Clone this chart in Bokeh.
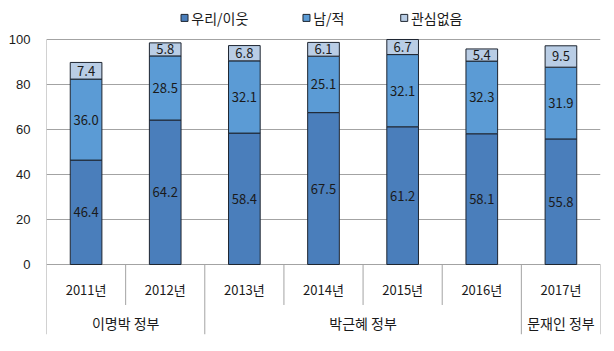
from bokeh.plotting import figure
from bokeh.models import Range1d, FixedTicker, ColumnDataSource
from bokeh.core.properties import value
from bokeh.embed import file_html
from bokeh.resources import INLINE

years = ["2011년", "2012년", "2013년", "2014년", "2015년", "2016년", "2017년"]
groups = ["이명박 정부", "박근혜 정부", "문재인 정부"]
group_spans = [(0, 2), (2, 6), (6, 7)]
series_names = ["우리/이웃", "남/적", "관심없음"]
ours = [46.4, 64.2, 58.4, 67.5, 61.2, 58.1, 55.8]
enemy = [36.0, 28.5, 32.1, 25.1, 32.1, 32.3, 31.9]
none_ = [7.4, 5.8, 6.8, 6.1, 6.7, 5.4, 9.5]
y_ticks = [0, 20, 40, 60, 80, 100]

colors = ["#4A7EBB", "#5B9BD5", "#B9CDE5"]
edge = "#1e2530"
grid_color = "#a3a3a3"
font = "Noto Sans CJK KR"
txt_color = "#1a1a1a"

n = len(years)
xs = [i + 0.5 for i in range(n)]

p = figure(width=614, height=351, output_backend="svg", toolbar_location=None,
           x_range=Range1d(0, n), y_range=Range1d(-38.67, 117.33),
           x_axis_location=None, min_border_left=46, min_border_right=14,
           min_border_top=0, min_border_bottom=0)
p.outline_line_color = None
p.xgrid.visible = False
p.ygrid.ticker = FixedTicker(ticks=y_ticks)
p.ygrid.grid_line_color = grid_color
p.ygrid.grid_line_width = 1
p.yaxis.ticker = FixedTicker(ticks=y_ticks)
p.yaxis.axis_line_color = None
p.yaxis.major_tick_line_color = None
p.yaxis.minor_tick_line_color = None
p.yaxis.major_label_standoff = 10
p.yaxis.major_label_text_font = "Liberation Sans"
p.yaxis.major_label_text_font_size = "13px"
p.yaxis.major_label_text_color = txt_color

src = ColumnDataSource(dict(x=xs, s1=ours, s2=enemy, s3=none_))
p.vbar_stack(["s1", "s2", "s3"], x="x", width=0.4, source=src,
             fill_color=colors, line_color=edge, line_width=1)

# value labels
lx, ly, lt = [], [], []
for i in range(n):
    base = 0.0
    for v in (ours[i], enemy[i], none_[i]):
        lx.append(xs[i])
        ly.append(base + v / 2)
        lt.append(f"{v:.1f}")
        base += v
p.text(x=lx, y=ly, text=lt, text_align="center", text_baseline="middle",
       text_font=value(font), text_font_size="13px", text_color=txt_color)

# left axis line
p.segment(x0=[0], y0=[100], x1=[0], y1=[-31], line_color=grid_color, line_width=1)

# separators below axis
group_bounds = sorted(set([a for a, b in group_spans] + [b for a, b in group_spans]))
year_bounds = [b for b in range(1, n) if b not in group_bounds]
p.segment(x0=year_bounds, y0=[0] * len(year_bounds), x1=year_bounds,
          y1=[-18] * len(year_bounds), line_color=grid_color, line_width=1)
gb = [b for b in group_bounds if b != 0]
p.segment(x0=gb, y0=[0] * len(gb), x1=gb, y1=[-31] * len(gb),
          line_color=grid_color, line_width=1)

# category labels
p.text(x=xs, y=[-11] * n, text=years, text_align="center", text_baseline="middle",
       text_font=value(font), text_font_size="13px", text_color=txt_color)
gx = [(a + b) / 2 for a, b in group_spans]
p.text(x=gx, y=[-25.8] * len(groups), text=groups, text_align="center",
       text_baseline="middle", text_font=value(font), text_font_size="14px",
       text_color=txt_color)

# legend
leg_x = [1.744, 3.285, 4.52]
leg_y = 109.6
p.scatter(x=leg_x, y=[leg_y] * 3, marker="square", size=7, fill_color=colors,
          line_color=edge, line_width=1)
p.text(x=[v + 0.085 for v in leg_x], y=[leg_y] * 3, text=series_names,
       text_align="left", text_baseline="middle", text_font=value(font),
       text_font_size="14px", text_color=txt_color)

open("out.html", "w").write(file_html(p, INLINE))
